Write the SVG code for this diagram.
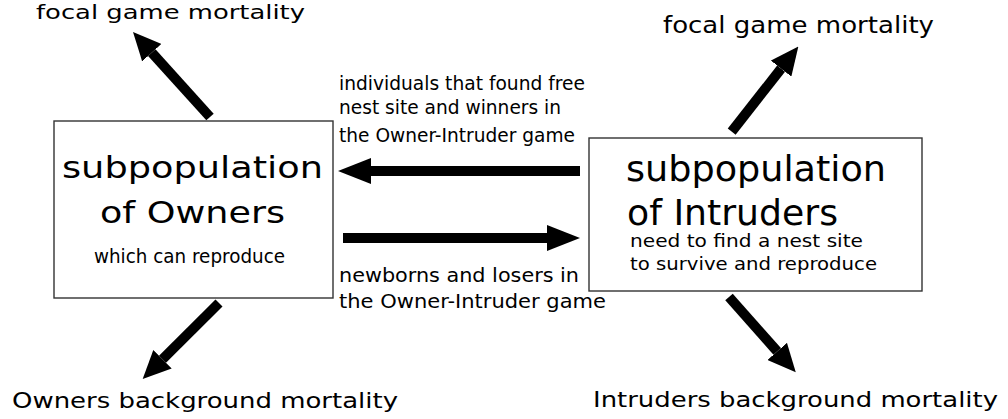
<svg xmlns="http://www.w3.org/2000/svg" width="1008" height="419" viewBox="0 0 1008 419">
<style>
text{font-family:"DejaVu Sans","Liberation Sans",sans-serif;fill:#000}
.box{fill:#fff;stroke:#333;stroke-width:1.4}
.arr{stroke:#000;stroke-width:10;fill:none;stroke-linecap:butt}
</style>
<defs>
<marker id="hd" markerUnits="userSpaceOnUse" viewBox="0 -13 28 26" refX="0" refY="0" markerWidth="28" markerHeight="26" orient="auto"><path d="M0,-13 L28,0 L0,13 z" fill="#000"/></marker>
<marker id="hh" markerUnits="userSpaceOnUse" viewBox="0 -13 33 26" refX="0" refY="0" markerWidth="33" markerHeight="26" orient="auto"><path d="M0,-13 L33,0 L0,13 z" fill="#000"/></marker>
</defs>
<rect width="1008" height="419" fill="#fff"/>
<g id="connectors">
<line class="arr" x1="210" y1="117" x2="151.8" y2="52.7" marker-end="url(#hd)"/>
<line class="arr" x1="731.7" y1="131.7" x2="781.1" y2="68.6" marker-end="url(#hd)"/>
<line class="arr" x1="219" y1="303" x2="162.5" y2="359.3" marker-end="url(#hd)"/>
<line class="arr" x1="729" y1="297" x2="777.2" y2="351.4" marker-end="url(#hd)"/>
<line class="arr" x1="580" y1="171" x2="371" y2="171" marker-end="url(#hh)"/>
<line class="arr" x1="343" y1="238" x2="547" y2="238" marker-end="url(#hh)"/>
</g>
<g id="owners">
<rect class="box" x="54" y="121" width="279" height="177"/>
<text x="62" y="178" font-size="31" textLength="261" lengthAdjust="spacingAndGlyphs">subpopulation</text>
<text x="100" y="223" font-size="31" textLength="185" lengthAdjust="spacingAndGlyphs">of Owners</text>
<text x="94" y="263" font-size="19" textLength="191" lengthAdjust="spacingAndGlyphs">which can reproduce</text>
</g>
<g id="intruders">
<rect class="box" x="589" y="138" width="333" height="153"/>
<text x="626" y="181" font-size="36" textLength="260" lengthAdjust="spacingAndGlyphs">subpopulation</text>
<text x="627" y="225" font-size="35" textLength="211" lengthAdjust="spacingAndGlyphs">of Intruders</text>
<text x="630" y="247" font-size="18" textLength="233" lengthAdjust="spacingAndGlyphs">need to find a nest site</text>
<text x="630" y="270" font-size="18" textLength="247" lengthAdjust="spacingAndGlyphs">to survive and reproduce</text>
</g>
<g id="owners-focal">
<text x="36" y="19" font-size="20" textLength="269" lengthAdjust="spacingAndGlyphs">focal game mortality</text>
</g>
<g id="intruders-focal">
<text x="663" y="33" font-size="23" textLength="271" lengthAdjust="spacingAndGlyphs">focal game mortality</text>
</g>
<g id="owners-bg">
<text x="12" y="408" font-size="22" textLength="386" lengthAdjust="spacingAndGlyphs">Owners background mortality</text>
</g>
<g id="intruders-bg">
<text x="593" y="407" font-size="22" textLength="405" lengthAdjust="spacingAndGlyphs">Intruders background mortality</text>
</g>
<g id="label-to-owners">
<text x="339" y="90" font-size="20" textLength="246" lengthAdjust="spacingAndGlyphs">individuals that found free</text>
<text x="339" y="114" font-size="20" textLength="222" lengthAdjust="spacingAndGlyphs">nest site and winners in</text>
<text x="339" y="142" font-size="20" textLength="236" lengthAdjust="spacingAndGlyphs">the Owner-Intruder game</text>
</g>
<g id="label-to-intruders">
<text x="339" y="282" font-size="20" textLength="240" lengthAdjust="spacingAndGlyphs">newborns and losers in</text>
<text x="339" y="308" font-size="20" textLength="267" lengthAdjust="spacingAndGlyphs">the Owner-Intruder game</text>
</g>
</svg>
